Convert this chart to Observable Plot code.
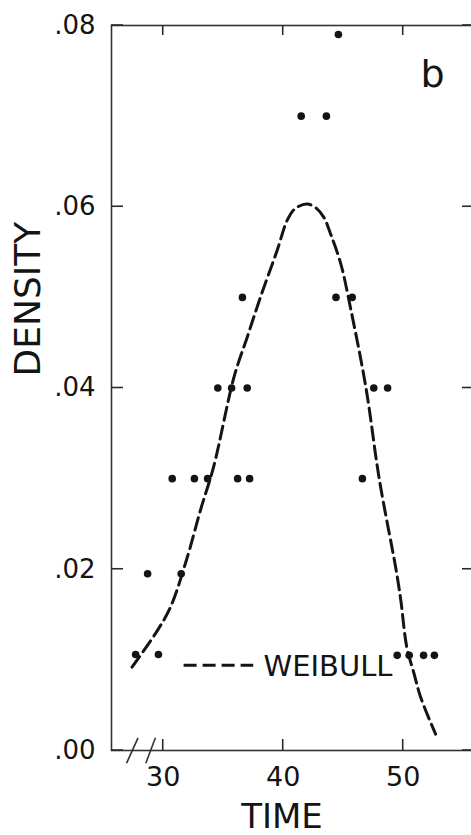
<!DOCTYPE html>
<html>
<head>
<meta charset="utf-8">
<script src="https://cdn.jsdelivr.net/npm/d3@7"></script>
<script src="https://cdn.jsdelivr.net/npm/@observablehq/plot@0.6"></script>
<style>
  html, body { margin: 0; padding: 0; background: #fff; }
  #chart svg { display: block; }
</style>
</head>
<body>
<div id="chart"></div>
<script>
// Observed densities (dots)
const obsTime = [27.7, 29.6, 28.7, 31.5, 30.75, 32.6, 33.7, 36.2, 37.2, 46.6,
                 34.55, 35.7, 37.0, 47.55, 48.7, 36.6, 44.4, 45.75, 41.5, 43.6, 44.6,
                 49.5, 50.5, 51.7, 52.6];
const obsDensity = [0.0106, 0.0106, 0.0195, 0.0195, 0.030, 0.030, 0.030, 0.030, 0.030, 0.030,
                    0.040, 0.040, 0.040, 0.040, 0.040, 0.050, 0.050, 0.050, 0.070, 0.070, 0.079,
                    0.0105, 0.0105, 0.0105, 0.0105];

// Fitted Weibull curve
const fitTime = [27.4, 29.35, 30.6, 32.0, 33.1, 34.2, 35.9, 37.0, 38.1, 39.5, 40.33, 41.0, 42.0,
                 42.8, 43.4, 43.95, 44.8, 45.6, 46.9, 48.0, 49.4, 49.8, 50.3, 50.9, 51.45, 52.7];
const fitDensity = [0.0092, 0.0129, 0.0158, 0.0213, 0.0265, 0.0313, 0.0412, 0.0456, 0.0500, 0.0552, 0.0585, 0.0598, 0.0603,
                    0.0598, 0.0588, 0.0570, 0.0537, 0.0489, 0.0400, 0.0300, 0.0200, 0.0166, 0.0114, 0.0085, 0.0059, 0.0018];

// Ticks and labels
const xTicks = [30, 40, 50];
const xTickLabels = ["30", "40", "50"];
const yTicks = [0, 0.02, 0.04, 0.06, 0.08];
const yTickLabels = [".00", ".02", ".04", ".06", ".08"];
const xLabel = "TIME";
const yLabel = "DENSITY";
const legendLabel = "WEIBULL";
const panelLabel = "b";

const font = "'DejaVu Sans', sans-serif";
const ink = "#141414";
const tickInk = "#2a2a2a";
const obsIdx = d3.range(obsTime.length);
const fitIdx = d3.range(fitTime.length);

const xDomain = [25.69, 55.86];
const yDomain = [0, 0.08];

const chart = Plot.plot({
  width: 471,
  height: 835,
  marginLeft: 111,
  marginRight: -2,
  marginTop: 25,
  marginBottom: 85,
  style: { fontFamily: font, background: "#fff", color: ink },
  x: { domain: xDomain, axis: null },
  y: { domain: yDomain, axis: null },
  marks: [
    Plot.frame({ stroke: "#333", strokeWidth: 1.6 }),
    // tick labels
    Plot.axisX(xTicks, { anchor: "bottom", tickSize: 0, tickPadding: 16, label: null, fontSize: 27, fill: ink,
      tickFormat: (d) => xTickLabels[xTicks.indexOf(d)] }),
    Plot.axisY(yTicks, { anchor: "left", tickSize: 0, tickPadding: 16, label: null, fontSize: 26, fill: ink,
      tickFormat: (d) => yTickLabels[yTicks.indexOf(d)] }),
    // axis titles
    Plot.text([xLabel], { frameAnchor: "bottom", dx: -10.5, dy: 67, lineAnchor: "middle", fontSize: 34, fill: ink }),
    Plot.text([yLabel], { frameAnchor: "left", rotate: -90, dx: -83.5, dy: -11.5, lineAnchor: "middle", fontSize: 36, fill: ink }),
    // panel letter
    Plot.text([panelLabel], { frameAnchor: "top-right", dx: -41, dy: 35, lineAnchor: "top", textAnchor: "middle", fontSize: 38, fill: ink }),
    // axis break marks
    Plot.link([0, 1], { x1: [26.95, 28.55], x2: [27.9, 29.35], y1: [-0.0014, -0.0014], y2: [0.0014, 0.0014], stroke: "#333", strokeWidth: 1.6 }),
    // fitted curve
    Plot.line(fitIdx, { x: fitTime, y: fitDensity, curve: "catmull-rom", stroke: ink, strokeWidth: 3, strokeDasharray: "13,6" }),
    // observations
    Plot.dot(obsIdx, { x: obsTime, y: obsDensity, r: 3.8, fill: ink, stroke: "none" }),
    // legend
    Plot.link([0], { x1: 31.7, x2: 37.5, y1: 0.0094, y2: 0.0094, stroke: ink, strokeWidth: 3, strokeDasharray: "13,6" }),
    Plot.text([legendLabel], { x: 38.36, y: 0.0092, textAnchor: "start", lineAnchor: "middle", fontSize: 29, fill: ink })
  ]
});

// inward tick marks on all four sides, placed through Plot's own scales
const sx = chart.scale("x"), sy = chart.scale("y");
const [x0, x1] = sx.range, [y0, y1] = sy.range; // y0 = bottom, y1 = top
const g = d3.select(chart).append("g")
  .attr("stroke", tickInk).attr("stroke-width", 1.6).attr("fill", "none");
for (const t of xTicks) {
  const px = sx.apply(t);
  g.append("line").attr("x1", px).attr("x2", px).attr("y1", y0).attr("y2", y0 - 11);
  g.append("line").attr("x1", px).attr("x2", px).attr("y1", y1).attr("y2", y1 + 10);
}
for (const t of yTicks) {
  const py = sy.apply(t);
  g.append("line").attr("x1", x0).attr("x2", x0 + 12).attr("y1", py).attr("y2", py);
  g.append("line").attr("x1", x1).attr("x2", x1 - 11).attr("y1", py).attr("y2", py);
}

document.getElementById("chart").append(chart);
</script>
</body>
</html>
